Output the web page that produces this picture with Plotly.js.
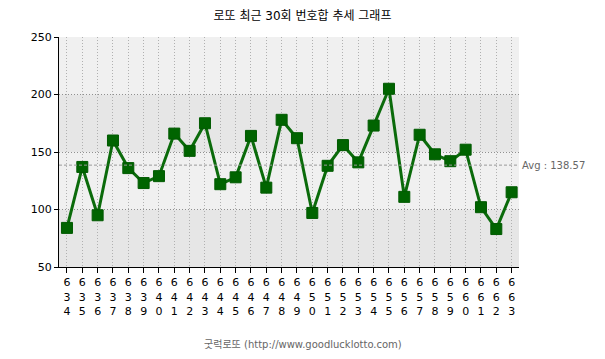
<!DOCTYPE html>
<html>
<head>
<meta charset="utf-8">
<script src="https://cdn.plot.ly/plotly-3.0.1.min.js"></script>
<style>html,body{margin:0;padding:0;background:#fff;}#chart{width:605px;height:359px;}</style>
</head>
<body>
<div id="chart"></div>
<script>
const draws = [634,635,636,637,638,639,640,641,642,643,644,645,646,647,648,649,650,651,652,653,654,655,656,657,658,659,660,661,662,663];
const sums = [84,137,95,160,136,123,129,166,151,175,122,128,164,119,178,162,97,138,156,141,173,205,111,165,148,142,152,102,83,115];
const avgValue = 138.57;
const yTicks = [50,100,150,200,250];
const bands = [[50,100,'#e6e6e6'],[100,150,'#f0f0f0'],[150,200,'#e6e6e6'],[200,250,'#f0f0f0']];

const xIdx = draws.map((d,i)=>i);
const tickText = draws.map(d => String(d).split('').join('<br>'));
const font = 'Verdana, "DejaVu Sans", "Noto Sans CJK KR", sans-serif';

const shapes = bands.map(b => ({
  type:'rect', xref:'paper', yref:'y', x0:0, x1:1, y0:b[0], y1:b[1],
  fillcolor:b[2], line:{width:0}, layer:'below'
}));
shapes.push({type:'line', xref:'paper', yref:'y', x0:0, x1:1, y0:avgValue, y1:avgValue,
  line:{color:'#999999', width:1, dash:'3px,2px'}});

const trace = {
  x: xIdx, y: sums, type:'scatter', mode:'lines+markers',
  line:{color:'#0b6b0b', width:3},
  marker:{symbol:'square', size:11, color:'#006400', line:{color:'#005a00', width:1}},
  hoverinfo:'skip'
};

const layout = {
  width:605, height:359,
  margin:{l:59, r:86, t:37, b:92},
  paper_bgcolor:'#ffffff', plot_bgcolor:'#f0f0f0',
  showlegend:false,
  title:{text:'로또 최근 30회 번호합 추세 그래프', font:{family:font, size:12, color:'#000'}, x:0.5, xanchor:'center', y:0.955, yanchor:'middle'},
  xaxis:{
    range:[-0.52, 29.48], tickmode:'array', tickvals:xIdx, ticktext:tickText,
    showgrid:true, gridcolor:'#b0b0b0', griddash:'1px,2px', gridwidth:1,
    ticks:'outside', ticklen:5, tickcolor:'#000', tickwidth:1,
    showline:true, linecolor:'#000', linewidth:1,
    tickfont:{family:font, size:11, color:'#000'}, zeroline:false, fixedrange:true
  },
  yaxis:{
    range:[50,250], tickmode:'array', tickvals:yTicks,
    showgrid:true, gridcolor:'#909090', griddash:'1px,2px', gridwidth:1,
    ticks:'outside', ticklen:4, tickcolor:'#000', tickwidth:1,
    showline:true, linecolor:'#000', linewidth:1,
    tickfont:{family:font, size:11, color:'#000'}, zeroline:false, fixedrange:true
  },
  shapes: shapes,
  annotations:[
    {xref:'paper', yref:'y', x:1, y:avgValue, xanchor:'left', yanchor:'middle', xshift:1, showarrow:false,
     text:'Avg : ' + avgValue.toFixed(2), font:{family:font, size:10, color:'#666666'}},
    {xref:'paper', yref:'paper', x:0.53, y:-0.335, xanchor:'center', yanchor:'middle', showarrow:false,
     text:'굿럭로또 (http://www.goodlucklotto.com)', font:{family:font, size:10, color:'#666666'}}
  ]
};

Plotly.newPlot('chart', [trace], layout, {displayModeBar:false, staticPlot:true});
</script>
</body>
</html>
